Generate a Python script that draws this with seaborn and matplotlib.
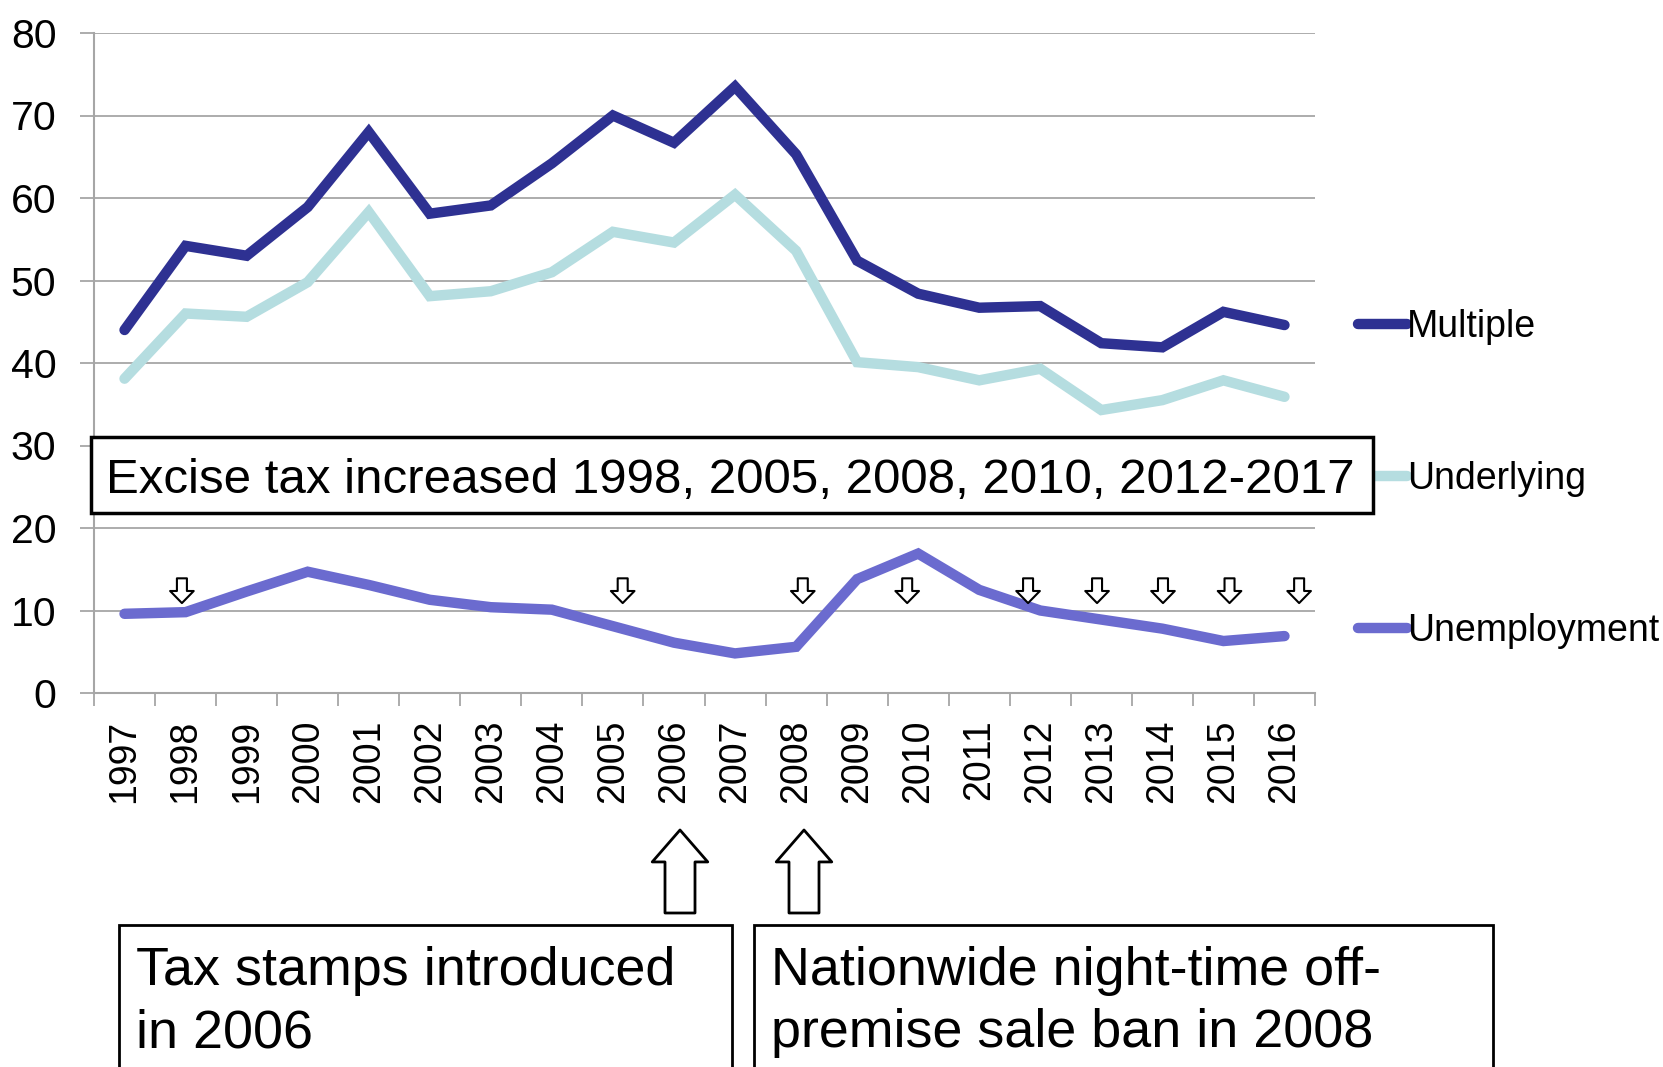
import numpy as np
import pandas as pd
import seaborn as sns
import matplotlib.pyplot as plt
from matplotlib.patches import Rectangle

years = [str(y) for y in range(1997, 2017)]
multiple = [44.0, 54.2, 53.0, 58.9, 68.0, 58.1, 59.1, 64.2, 70.0, 66.7,
            73.5, 65.3, 52.4, 48.4, 46.7, 46.9, 42.4, 41.9, 46.2, 44.6]
underlying = [38.1, 46.0, 45.6, 49.8, 58.3, 48.1, 48.7, 51.0, 55.9, 54.6,
              60.4, 53.6, 40.1, 39.5, 37.9, 39.3, 34.3, 35.5, 37.9, 35.9]
unemployment = [9.6, 9.8, 12.3, 14.7, 13.1, 11.3, 10.4, 10.1, 8.1, 6.1,
                4.8, 5.6, 13.8, 16.9, 12.5, 10.0, 8.9, 7.8, 6.3, 6.9]
series_names = ["Multiple", "Underlying", "Unemployment"]
colors = ["#2E3192", "#B5DDE0", "#6B6BCF"]

excise_text = "Excise tax increased 1998, 2005, 2008, 2010, 2012-2017"
# small down arrows marking the excise tax years (x in category units)
excise_marks = [0.94, 8.16, 11.11, 12.82, 14.8, 15.93, 17.01, 18.1, 19.24]
stamps_text = ["Tax stamps introduced", "in 2006"]
ban_text = ["Nationwide night-time off-", "premise sale ban in 2008"]

W, H = 1663, 1067
GRAY = "#A6A6A6"
LW = 7.5


def fx(px):
    return px / W


def fy(py):
    # pixel rows are counted from the top
    return 1 - py / H


sns.set_style("white")
plt.rcParams["font.family"] = ["Liberation Sans", "DejaVu Sans"]
plt.rcParams["text.color"] = "black"

df = pd.DataFrame({
    "x": list(range(len(years))) * 3,
    "value": multiple + underlying + unemployment,
    "series": [s for s in series_names for _ in years],
})

fig = plt.figure(figsize=(W / 100, H / 100), dpi=100)
ax = fig.add_axes([fx(94), fy(693), fx(1315) - fx(94), fy(33) - fy(693)])

sns.lineplot(data=df, x="x", y="value", hue="series", hue_order=series_names,
             palette=colors, ax=ax, zorder=3)
for line in ax.get_lines():
    line.set_linewidth(LW)
    line.set_solid_capstyle("round")
    line.set_solid_joinstyle("miter")

ax.set_xlim(-0.5, len(years) - 0.5)
ax.set_ylim(0, 80)
ax.set_yticks(range(0, 81, 10))
ax.set_xticks(range(len(years)))
ax.set_xticklabels(years, rotation=90)
ax.set_xticks(np.arange(-0.5, len(years), 1), minor=True)
ax.set_xlabel("")
ax.set_ylabel("")

ax.yaxis.grid(True, color=GRAY, lw=1.3)
ax.xaxis.grid(False)
for side in ["top", "right"]:
    ax.spines[side].set_visible(False)
for side in ["left", "bottom"]:
    ax.spines[side].set_color(GRAY)
    ax.spines[side].set_linewidth(1.5)

ax.tick_params(axis="y", left=True, length=10, width=1.3, color=GRAY,
               labelsize=29.5, pad=17, labelcolor="black")
ax.tick_params(axis="x", which="major", bottom=True, length=0, labelsize=27, pad=19,
               labelcolor="black")
ax.tick_params(axis="x", which="minor", bottom=True, length=9, width=1.3, color=GRAY)

handles, labels = ax.get_legend_handles_labels()
for h in handles:
    h.set_linewidth(LW)
    h.set_solid_capstyle("round")
leg = ax.legend(handles, labels, loc="center left", bbox_to_anchor=(fx(1358), fy(479)),
                bbox_transform=fig.transFigure, frameon=False, fontsize=27,
                handlelength=1.3, handletextpad=0.0, labelspacing=3.1,
                borderpad=0, borderaxespad=0)
for t in leg.get_texts():
    t.set_color("black")

# small hollow arrows for excise tax increases
for pos in excise_marks:
    ax.annotate("", xy=(pos, 10.9), xytext=(pos, 13.9),
                arrowprops=dict(arrowstyle="simple,head_length=0.87,head_width=1.7,tail_width=0.72",
                                mutation_scale=10, fc="white", ec="black", lw=1.5,
                                shrinkA=0, shrinkB=0),
                zorder=6, annotation_clip=False)

# excise box
fig.add_artist(Rectangle((fx(91), fy(513)), fx(1373) - fx(91), fy(437) - fy(513),
                         transform=fig.transFigure, fc="white", ec="black", lw=2.5, zorder=5))
fig.text(fx(106), fy(493), excise_text, fontsize=35.5, va="baseline", zorder=6)

# big arrows pointing at 2006 and 2008
for xp in [680, 804]:
    ax.annotate("", xy=(fx(xp), fy(830)), xycoords="figure fraction",
                xytext=(fx(xp), fy(913)), textcoords="figure fraction",
                arrowprops=dict(arrowstyle="simple,head_length=1.15,head_width=2.0,tail_width=1.08",
                                mutation_scale=20, fc="white", ec="black", lw=2,
                                shrinkA=0, shrinkB=0),
                annotation_clip=False)

# bottom text boxes
for (x0, x1, lines) in [(119, 732, stamps_text), (754, 1493, ban_text)]:
    fig.add_artist(Rectangle((fx(x0), fy(1100)), fx(x1) - fx(x0), fy(925) - fy(1100),
                             transform=fig.transFigure, fc="white", ec="black", lw=2, zorder=5))
    for i, line in enumerate(lines):
        fig.text(fx(x0 + 17), fy(985 + 62 * i), line, fontsize=38.8, va="baseline", zorder=6)

fig.savefig("out.png", dpi=100)
